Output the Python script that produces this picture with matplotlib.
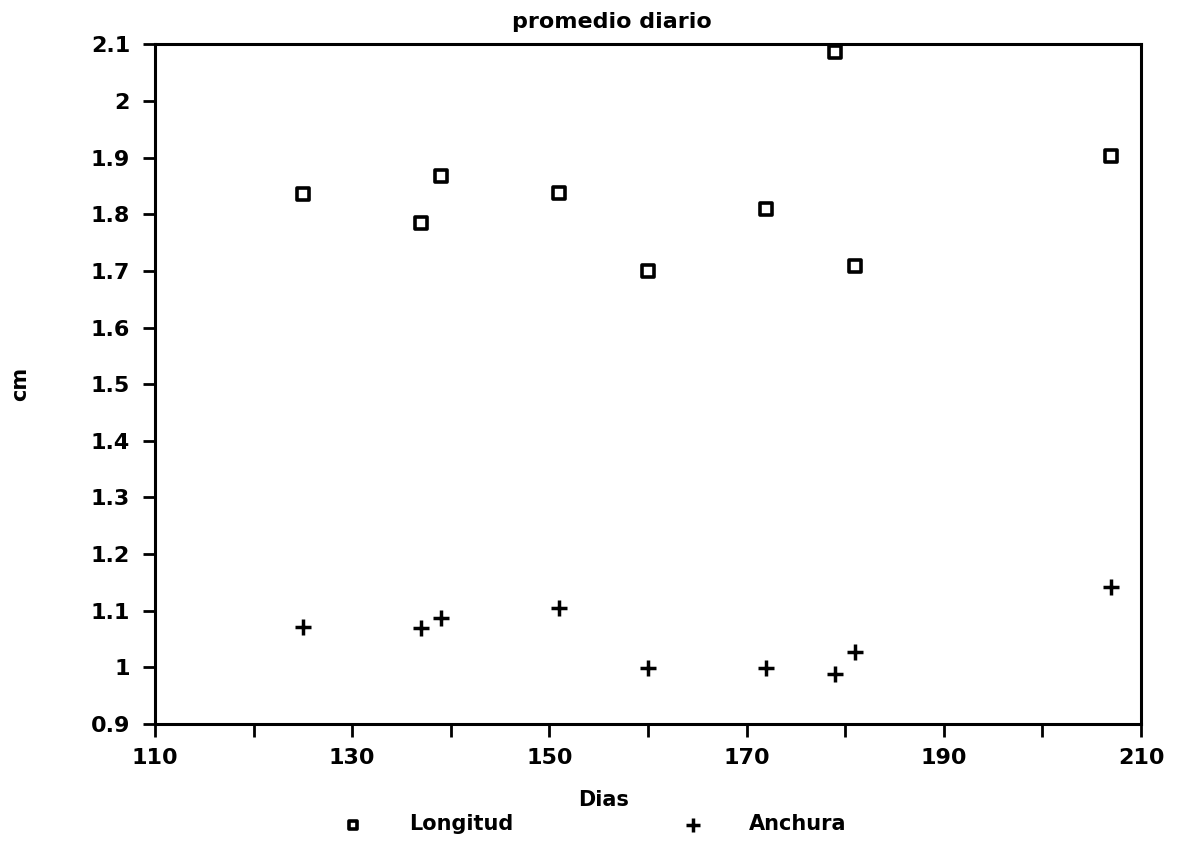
import numpy as np
from matplotlib import pyplot as plt

# promedio diario por día
dias = [125, 137, 139, 151, 160, 172, 179, 181, 207]
longitud = [1.835, 1.785, 1.868, 1.838, 1.699, 1.809, 2.087, 1.709, 1.902]
anchura = [1.072, 1.069, 1.088, 1.105, 0.999, 0.999, 0.989, 1.028, 1.142]

x_ticks = np.arange(110, 211, 10)
x_labels = [str(t) if (t - 110) % 20 == 0 else '' for t in x_ticks]
y_ticks = np.round(np.arange(0.9, 2.11, 0.1), 1)
y_labels = ['0.9', '1', '1.1', '1.2', '1.3', '1.4', '1.5', '1.6',
            '1.7', '1.8', '1.9', '2', '2.1']

plt.rcParams['font.family'] = ['DejaVu Sans']
plt.rcParams['font.weight'] = 'bold'

fig = plt.figure(figsize=(11.78, 8.41), dpi=100)
ax = fig.add_axes([0.1316, 0.1391, 0.837, 0.8082])

ax.scatter(dias, longitud, marker='s', s=65, facecolors='white',
           edgecolors='black', linewidths=2.6, label='Longitud', zorder=3)
ax.scatter(dias, anchura, marker='+', s=140, color='black',
           linewidths=2.5, label='Anchura', zorder=3)

ax.set_xlim(110, 210)
ax.set_ylim(0.9, 2.1)
ax.set_xticks(x_ticks)
ax.set_xticklabels(x_labels)
ax.set_yticks(y_ticks)
ax.set_yticklabels(y_labels)

for sp in ax.spines.values():
    sp.set_linewidth(2.2)
ax.tick_params(axis='both', direction='out', width=2, length=9,
               labelsize=16, pad=9)
ax.tick_params(axis='x', pad=8)

fig.text(0.5195, 0.974, 'promedio diario', fontsize=16, fontweight='bold',
         ha='center', va='center')
ax.set_xlabel('Dias', fontsize=15, fontweight='bold')
ax.xaxis.set_label_coords(0.455, -0.097)
fig.text(0.017, 0.5434, 'cm', fontsize=15, fontweight='bold',
         rotation=90, ha='center', va='center')

fig.legend(loc='center left', bbox_to_anchor=(0.266, 0.02), ncol=2,
           frameon=False, fontsize=15, columnspacing=7.6, handletextpad=1.7,
           scatterpoints=1, markerscale=0.8)

fig.savefig('out.png', dpi=100)
